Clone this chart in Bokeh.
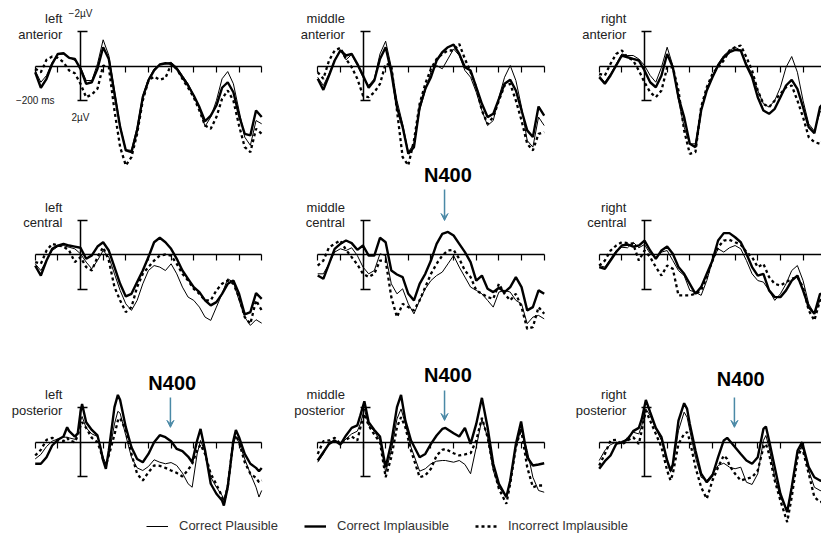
from bokeh.plotting import figure
from bokeh.models import (Range1d, LinearAxis, FixedTicker, Label, Arrow,
                          VeeHead, Legend, LegendItem)
from bokeh.embed import file_html
from bokeh.resources import INLINE

# ---------------- data (ms, microvolts; negative plotted up) ----------------
T_GRID = [-200, -175, -150, -125, -100, -75, -50, -25, 0, 25, 50, 75, 100, 125,
          150, 175, 200, 225, 250, 275, 300, 325, 350, 375, 400, 425, 450, 475,
          500, 525, 550, 575, 600, 625, 650, 675, 700, 725, 750, 775, 800]
TICKS_MS = [-200, -100, 0, 100, 200, 300, 400, 500, 600, 700, 800]
SCALE_UV = [-2, 2]

SERIES_NAMES = ["Correct Plausible", "Correct Implausible", "Incorrect Implausible"]
REGIONS_LR = ["left", "middle", "right"]
REGIONS_AP = ["anterior", "central", "posterior"]

LA_CP = [0.25, 0.93, 0.54, -0.23, -0.68, -0.71, -0.52, -0.33, 0.06, 0.83, 0.83, -0.14, -1.53, -0.62, 1.41, 3.44, 4.84, 4.88, 3.53, 1.70, 0.73, 0.15, -0.10, -0.14, -0.23, 0.06, 0.54, 1.02, 1.70, 2.47, 3.49, 2.95, 1.99, 0.73, 0.31, 1.02, 2.57, 4.11, 4.59, 3.15, 3.34]
LA_CI = [0.35, 1.25, 0.73, -0.14, -0.71, -0.75, -0.48, -0.42, 0.15, 1.02, 0.93, 0.15, -1.10, -0.42, 1.60, 3.53, 4.88, 4.98, 3.72, 1.79, 0.83, 0.25, -0.10, -0.17, -0.14, 0.15, 0.64, 1.12, 1.70, 2.37, 3.19, 2.86, 2.28, 1.25, 0.93, 1.51, 2.86, 3.92, 4.01, 2.57, 2.95]
LA_II = [0.15, 0.35, -0.37, -0.56, -0.48, -0.23, 0.25, 0.41, 1.02, 1.80, 1.64, 1.31, -0.04, 0.06, 2.57, 4.69, 5.75, 5.27, 3.92, 1.99, 0.83, 0.60, 0.79, 0.68, -0.10, 0.15, 0.73, 1.25, 1.80, 2.57, 3.44, 3.63, 2.95, 1.89, 1.41, 1.99, 3.44, 4.69, 4.98, 3.63, 3.92]

MA_CP = [0.64, 1.12, 0.44, -0.37, -0.95, -0.37, -0.68, -0.04, 0.64, 1.12, 0.73, -0.71, -1.45, 0.06, 1.99, 3.34, 4.98, 4.50, 2.57, 1.41, 0.35, -0.04, 0.15, -0.42, -1.00, -0.62, 0.25, 0.64, 1.51, 2.57, 3.44, 3.15, 1.80, 0.64, -0.04, 0.83, 2.37, 4.31, 4.69, 2.95, 3.44]
MA_CI = [0.73, 1.37, 0.54, -0.33, -0.91, -0.62, -0.71, -0.14, 0.54, 1.25, 0.83, -0.42, -1.10, 0.35, 2.37, 3.53, 5.07, 4.69, 2.37, 1.31, 0.64, -0.33, -0.81, -1.10, -1.25, -0.71, 0.06, 0.25, 1.22, 2.18, 2.95, 2.76, 1.89, 1.02, 0.79, 1.41, 2.57, 3.72, 4.11, 2.34, 2.86]
MA_II = [0.35, 0.73, -0.33, -0.91, -1.06, -0.42, 0.06, 0.73, 1.70, 1.80, 1.51, 1.02, -0.14, -0.04, 2.57, 5.27, 5.75, 4.31, 2.18, 1.02, 0.15, -0.42, -0.71, -0.91, -0.91, -1.29, -0.42, 0.35, 1.22, 2.57, 3.34, 2.95, 1.99, 1.12, 1.02, 1.99, 3.15, 4.50, 4.88, 3.92, 3.82]

RA_CP = [0.54, 0.93, 0.44, -0.14, -0.71, -0.62, -0.62, -0.42, -0.04, 0.54, 0.93, 0.06, -1.10, -0.04, 1.99, 3.53, 4.50, 4.50, 2.57, 1.31, 0.54, -0.14, -0.62, -0.91, -1.10, -0.91, -0.14, 0.44, 1.41, 2.18, 2.37, 1.99, 1.22, 0.06, -0.56, 0.35, 1.99, 3.34, 3.76, 2.66, 2.37]
RA_CI = [0.64, 1.02, 0.54, -0.04, -0.62, -0.52, -0.42, -0.33, 0.25, 0.93, 1.22, 0.54, -0.71, 0.06, 1.80, 2.95, 4.50, 4.69, 2.57, 1.41, 0.64, -0.04, -0.52, -0.81, -0.95, -0.91, -0.04, 0.64, 1.80, 2.57, 2.76, 2.47, 1.80, 1.12, 0.79, 1.31, 2.37, 3.53, 3.88, 2.37, 1.99]
RA_II = [0.44, 0.54, -0.14, -0.71, -0.91, -0.52, -0.33, 0.25, 0.93, 1.51, 1.80, 1.41, 0.06, 0.06, 1.41, 3.73, 5.08, 4.98, 2.37, 1.22, 0.44, 0.06, -0.33, -0.91, -1.10, -1.20, -0.52, 0.25, 1.41, 2.18, 2.37, 1.99, 1.60, 1.22, 1.12, 1.99, 2.95, 4.11, 4.40, 4.50, 4.11]

LC_CP = [0.54, 0.93, 0.35, -0.23, -0.46, -0.52, -0.42, -0.33, -0.04, 0.44, 0.83, 0.35, -0.23, 0.15, 1.12, 2.08, 2.86, 3.24, 2.66, 1.70, 0.93, 0.64, 0.73, 0.93, 0.54, 1.12, 1.89, 2.47, 2.66, 3.05, 3.63, 3.82, 3.05, 2.28, 1.41, 1.60, 2.66, 3.63, 4.11, 3.78, 3.98]
LC_CI = [0.64, 1.22, 0.35, -0.33, -0.52, -0.62, -0.52, -0.46, -0.39, 0.25, 0.05, -0.46, -0.71, -0.23, 0.73, 1.70, 2.43, 2.28, 1.60, 0.93, 0.15, -0.71, -0.97, -0.71, -0.33, 0.25, 0.93, 1.41, 1.89, 2.18, 2.66, 2.95, 2.76, 2.28, 1.70, 1.51, 2.28, 3.47, 3.34, 2.24, 2.57]
LC_II = [0.44, 0.54, -0.23, -0.62, -0.52, -0.46, -0.23, 0.44, 0.15, 0.73, 0.93, 0.15, -0.42, 0.35, 1.89, 2.66, 3.34, 3.05, 1.89, 1.12, 0.73, 0.35, 0.06, 0.00, 0.06, 0.54, 1.12, 1.51, 1.99, 2.28, 2.66, 2.66, 2.08, 1.70, 1.51, 1.70, 2.47, 3.63, 4.01, 2.66, 3.24]

MC_CP = [1.12, 1.12, 0.54, -0.14, -0.33, -0.23, -0.39, 0.06, 0.73, 1.12, 0.93, -0.04, 0.06, 1.70, 2.28, 1.99, 2.86, 3.44, 2.66, 1.99, 1.51, 1.22, 1.02, 0.54, 0.06, 0.73, 1.31, 1.89, 2.08, 2.28, 2.66, 3.05, 2.18, 2.08, 2.18, 2.66, 2.86, 4.01, 3.63, 3.53, 3.73]
MC_CI = [1.22, 1.41, 0.54, -0.33, -0.62, -0.81, -0.66, -0.27, -0.52, 0.06, 0.06, -0.97, -0.71, 0.93, 1.16, 1.31, 2.28, 2.66, 1.70, 1.12, 0.35, -0.62, -1.20, -1.31, -1.10, -0.62, -0.14, 0.44, 1.51, 1.22, 1.99, 2.18, 1.93, 2.18, 1.89, 1.31, 1.89, 3.24, 3.05, 2.08, 2.28]
MC_II = [0.64, 0.35, -0.42, -0.62, -0.81, -0.27, 0.15, 0.58, 1.12, 1.31, 1.12, 0.35, 0.35, 2.47, 3.63, 2.86, 3.05, 3.24, 2.66, 1.89, 1.12, 0.54, 0.06, -0.23, -0.27, 0.25, 0.93, 1.31, 2.08, 2.28, 2.47, 2.57, 1.70, 2.28, 2.66, 2.28, 3.05, 4.31, 4.21, 3.05, 3.44]

RC_CP = [0.64, 0.73, 0.25, -0.23, -0.42, -0.39, -0.71, -0.39, -0.58, -0.04, 0.15, -0.14, -0.23, 0.35, 0.93, 1.22, 2.08, 2.18, 2.37, 1.51, 0.35, -0.33, -0.14, -0.39, -0.52, -0.33, 0.35, 1.12, 1.51, 1.60, 2.08, 2.66, 2.28, 1.70, 0.93, 0.64, 1.51, 2.86, 3.44, 2.66, 2.47]
RC_CI = [0.73, 0.83, 0.35, -0.14, -0.52, -0.58, -0.46, -0.52, -0.81, -0.23, 0.25, -0.23, -0.46, -0.04, 0.73, 1.12, 1.70, 2.28, 1.89, 1.12, 0.35, -0.81, -1.24, -1.24, -1.00, -0.71, -0.04, 0.73, 1.22, 1.12, 2.08, 2.47, 2.47, 2.08, 1.51, 1.22, 2.08, 3.05, 3.44, 2.28, 2.28]
RC_II = [0.64, 0.35, -0.23, -0.52, -0.71, -0.66, -0.62, 0.35, -0.23, 0.15, 0.73, 1.22, 0.64, 0.83, 2.37, 2.37, 2.37, 2.28, 2.08, 1.31, 0.35, -0.42, -0.81, -0.85, -0.71, -0.58, -0.14, 0.15, 0.73, 0.54, 1.31, 1.70, 1.80, 1.60, 1.41, 1.31, 1.89, 3.24, 3.82, 2.66, 2.47]

T_LP = [-200, -175, -150, -125, -100, -75, -59, -50, -25, -12, 0, 7, 25, 50, 75, 88, 100, 112, 125, 150, 165, 175, 200, 225, 250, 275, 300, 325, 350, 375, 400, 425, 450, 475, 493, 515, 530, 550, 575, 600, 625, 633, 650, 675, 686, 700, 725, 750, 775, 788, 800]
LP_CP = [0.97, 0.71, 0.25, -0.06, -0.19, -0.29, -0.29, -0.25, -0.17, -0.48, -1.25, -1.49, -0.83, -0.48, -0.33, 0.29, 0.87, 1.25, 0.77, -1.06, -1.79, -1.68, -0.39, 0.87, 1.49, 1.64, 1.41, 1.02, 1.16, 1.25, 1.18, 1.35, 1.79, 2.41, 2.61, 0.68, -0.10, 0.58, 2.03, 2.61, 3.09, 3.38, 2.41, 0.10, -0.33, 0.00, 0.97, 1.83, 2.61, 3.18, 2.80]
LP_CI = [1.25, 1.25, 0.87, 0.19, -0.14, -0.33, -0.87, -0.64, -0.33, -0.52, -1.74, -2.22, -1.16, -0.71, -0.39, 0.29, 1.06, 1.54, 0.48, -2.03, -2.74, -2.45, -0.87, 0.29, 0.97, 1.16, 0.68, 0.00, -0.41, -0.29, -0.06, 0.39, 0.52, 0.83, 1.16, -0.10, -0.77, 0.48, 2.41, 2.99, 3.38, 3.67, 2.61, -0.10, -0.71, -0.29, 0.68, 1.25, 1.49, 1.68, 1.49]
LP_II = [0.77, 0.44, -0.14, -0.25, -0.10, -0.06, -0.25, -0.10, 0.00, -0.39, -0.97, -1.16, -0.83, -0.25, 0.00, 0.48, 1.02, 1.35, 0.77, -0.44, -1.25, -1.41, -0.68, 0.68, 1.83, 2.22, 1.74, 1.35, 1.37, 1.49, 1.64, 1.78, 1.99, 1.60, 1.25, 0.48, 0.14, 0.68, 1.83, 2.45, 3.15, 3.53, 2.61, -0.14, -0.39, 0.00, 1.16, 1.83, 2.07, 2.32, 2.22]

T_MP = [-200, -175, -150, -125, -100, -75, -50, -25, -12, 6, 25, 50, 75, 100, 125, 150, 168, 187, 212, 250, 275, 300, 325, 350, 364, 400, 425, 450, 475, 500, 525, 550, 575, 600, 633, 650, 675, 698, 725, 750, 775, 800]
MP_CP = [1.16, 0.68, 0.00, -0.10, 0.14, -0.19, -0.48, -0.64, -1.06, -1.93, -0.97, -0.64, -0.10, 1.74, 0.48, -1.35, -1.93, -1.06, 0.29, 1.68, 1.54, 1.25, 1.10, 1.06, 1.06, 1.16, 1.06, 1.29, 1.83, 0.29, -1.35, -0.29, 1.64, 2.61, 3.18, 2.22, 0.29, -0.77, 0.48, 2.03, 2.80, 2.90]
MP_CI = [1.06, 0.58, 0.10, -0.10, 0.14, -0.39, -0.83, -0.97, -1.54, -2.37, -1.16, -0.71, -0.33, 1.45, 0.02, -2.03, -2.74, -1.25, -0.10, 0.87, 0.68, 0.10, -0.39, -0.77, -0.83, -0.52, -0.33, -0.83, 0.10, -1.06, -2.57, -0.87, 1.25, 2.41, 3.18, 2.22, 0.10, -1.20, 0.87, 1.35, 1.29, 1.22]
MP_II = [0.68, -0.06, -0.10, -0.25, 0.10, -0.14, -0.33, -0.10, -0.83, -1.64, -0.97, -0.44, 0.00, 2.03, 0.87, -0.87, -1.45, -0.87, 0.48, 2.03, 1.93, 1.54, 0.77, 0.44, 0.39, 0.64, 0.77, 0.71, 0.64, -0.10, -1.41, -0.29, 1.45, 2.70, 3.57, 2.41, 0.29, -0.77, 1.45, 2.61, 2.51, 2.51]

T_RP = [-200, -175, -150, -125, -100, -75, -50, -25, -12, 6, 25, 50, 75, 100, 115, 125, 150, 175, 188, 200, 225, 250, 275, 300, 325, 350, 365, 375, 400, 425, 450, 475, 500, 525, 536, 550, 575, 600, 630, 650, 676, 696, 725, 750, 775, 800]
RP_CP = [1.06, 0.48, 0.14, 0.00, 0.10, -0.29, -0.58, -0.48, -0.97, -1.93, -1.54, -0.77, -0.10, 1.16, 1.74, 1.45, -0.68, -1.74, -1.45, -0.68, 0.87, 2.03, 2.22, 1.83, 1.35, 1.22, 1.35, 1.45, 1.54, 1.45, 2.32, 2.45, 1.83, -0.10, -0.39, 0.29, 2.03, 3.18, 3.96, 2.61, 0.68, 0.19, 1.64, 2.61, 2.80, 2.90]
RP_CI = [1.54, 1.10, 0.77, 0.10, 0.00, -0.15, -0.64, -0.83, -1.35, -2.45, -1.74, -0.83, -0.29, 1.06, 1.64, 1.29, -1.25, -2.26, -1.93, -1.06, 0.48, 1.83, 2.32, 1.93, 0.87, -0.10, -0.25, -0.10, 0.29, 0.68, 1.06, 1.25, 0.87, -0.77, -0.91, -0.10, 1.45, 2.99, 4.05, 2.61, 0.48, 0.00, 1.45, 2.03, 2.22, 2.30]
RP_II = [1.35, 0.68, -0.10, -0.14, 0.14, -0.10, -0.29, 0.10, -0.68, -1.83, -1.25, -0.48, 0.29, 1.64, 2.22, 1.83, 0.10, -0.48, -0.58, -0.10, 1.45, 2.61, 3.28, 2.22, 1.45, 0.77, 0.97, 1.35, 1.83, 2.22, 2.12, 2.03, 1.64, 0.29, 0.10, 0.68, 2.22, 3.38, 4.63, 3.18, 0.87, 0.29, 1.83, 3.18, 3.47, 3.40]

# N400 markers: (column, row, arrow time ms)
N400_COLS = [1, 0, 1, 2]
N400_ROWS = [1, 2, 2, 2]
N400_TIMES = [360, 397, 360, 397]

# ---------------- layout / style ----------------
W, H = 821, 533
PX_PER_MS = 0.2265
PX_PER_UV = 17.25
COL_ZERO_PX = [80.0, 362.5, 644.0]
ROW_ZERO_PX = [65.7, 254.0, 441.7]
FONT = "Liberation Sans"
TEAL = "#4a89a6"

PANELS = [
    (0, 0, T_GRID, LA_CP, LA_CI, LA_II), (1, 0, T_GRID, MA_CP, MA_CI, MA_II), (2, 0, T_GRID, RA_CP, RA_CI, RA_II),
    (0, 1, T_GRID, LC_CP, LC_CI, LC_II), (1, 1, T_GRID, MC_CP, MC_CI, MC_II), (2, 1, T_GRID, RC_CP, RC_CI, RC_II),
    (0, 2, T_LP, LP_CP, LP_CI, LP_II), (1, 2, T_MP, MP_CP, MP_CI, MP_II), (2, 2, T_RP, RP_CP, RP_CI, RP_II),
]

p = figure(width=W, height=H, output_backend="svg", toolbar_location=None,
           x_axis_type=None, y_axis_type=None, min_border=0,
           x_range=Range1d(0, 1), y_range=Range1d(0, 1))
p.outline_line_color = None
p.background_fill_color = "white"
p.border_fill_color = "white"

p.extra_x_ranges = {f"c{c}": Range1d(start=-x0 / PX_PER_MS, end=(W - x0) / PX_PER_MS)
                    for c, x0 in enumerate(COL_ZERO_PX)}
p.extra_y_ranges = {f"r{r}": Range1d(start=(H - y0) / PX_PER_UV, end=-y0 / PX_PER_UV)
                    for r, y0 in enumerate(ROW_ZERO_PX)}

STYLES = [dict(line_color="black", line_width=1.0),
          dict(line_color="black", line_width=2.4),
          dict(line_color="black", line_width=2.3, line_dash="3 3")]

legend_renderers = None
for c, r, t, cp, ci, ii in PANELS:
    xn, yn = f"c{c}", f"r{r}"
    # baseline axis with 100 ms ticks
    xa = LinearAxis(x_range_name=xn, y_range_name=yn, fixed_location=0,
                    bounds=(TICKS_MS[0], TICKS_MS[-1]), ticker=FixedTicker(ticks=TICKS_MS),
                    major_tick_in=0, major_tick_out=6, minor_tick_line_color=None,
                    major_label_text_color=None, axis_line_width=1.3,
                    major_tick_line_width=1.2, axis_line_color="black",
                    major_tick_line_color="black")
    p.add_layout(xa, "below")
    # vertical +-2 uV scale bar at stimulus onset
    ya = LinearAxis(x_range_name=xn, y_range_name=yn, fixed_location=0,
                    bounds=(SCALE_UV[0], SCALE_UV[1]), ticker=FixedTicker(ticks=SCALE_UV),
                    major_tick_in=7, major_tick_out=3, minor_tick_line_color=None,
                    major_label_text_color=None, axis_line_width=1.5,
                    major_tick_line_width=1.5, axis_line_color="black",
                    major_tick_line_color="black")
    p.add_layout(ya, "left")

    rends = []
    for vals, st in zip([cp, ii, ci], [STYLES[0], STYLES[2], STYLES[1]]):
        rends.append(p.line(x=t, y=vals, x_range_name=xn, y_range_name=yn, **st))
    if legend_renderers is None:
        legend_renderers = [rends[0], rends[2], rends[1]]

    for txt, yv in [(REGIONS_LR[c], -2.74), (REGIONS_AP[r], -1.86)]:
        p.add_layout(Label(x=-80, y=yv, x_range_name=xn, y_range_name=yn, text=txt,
                           text_font=FONT, text_font_size="13px", text_color="#222",
                           text_align="right", text_baseline="middle"))

# scale annotations of first panel
for txt, xv, yv in [("\u22122\u00b5V", 0, -3.05), ("2\u00b5V", 0, 2.97), ("\u2212200 ms", -200, 2.0)]:
    p.add_layout(Label(x=xv, y=yv, x_range_name="c0", y_range_name="r0", text=txt,
                       text_font=FONT, text_font_size="10px", text_color="#222",
                       text_align="center", text_baseline="middle"))

# N400 markers
TEXT_DX = [15, 8, 15, 28]
TEXT_Y = [-4.58, -3.42, -3.92, -3.68]
ARROW_Y0 = [-3.77, -2.59, -3.0, -2.59]
ARROW_Y1 = [-1.97, -0.86, -1.26, -0.86]
for c, r, tm, dx, ty, y0, y1 in zip(N400_COLS, N400_ROWS, N400_TIMES, TEXT_DX, TEXT_Y, ARROW_Y0, ARROW_Y1):
    xn, yn = f"c{c}", f"r{r}"
    p.add_layout(Label(x=tm + dx, y=ty, x_range_name=xn, y_range_name=yn, text="N400",
                       text_font=FONT, text_font_size="20px", text_font_style="bold",
                       text_color="black", text_align="center", text_baseline="middle"))
    p.add_layout(Arrow(x_start=tm, y_start=y0, x_end=tm, y_end=y1,
                       x_range_name=xn, y_range_name=yn, line_color=TEAL, line_width=1.5,
                       end=VeeHead(size=7, line_color=TEAL, fill_color=TEAL, line_width=1)))

legend = Legend(items=[LegendItem(label=n, renderers=[rr]) for n, rr in zip(SERIES_NAMES, legend_renderers)],
                location=(146, 0), orientation="horizontal", glyph_width=22, glyph_height=12,
                label_height=12, label_standoff=11, spacing=26, padding=0, margin=0,
                border_line_color=None, background_fill_alpha=0,
                label_text_font=FONT, label_text_font_size="13px", label_text_color="#333")
p.add_layout(legend)

open("out.html", "w").write(file_html(p, INLINE))
